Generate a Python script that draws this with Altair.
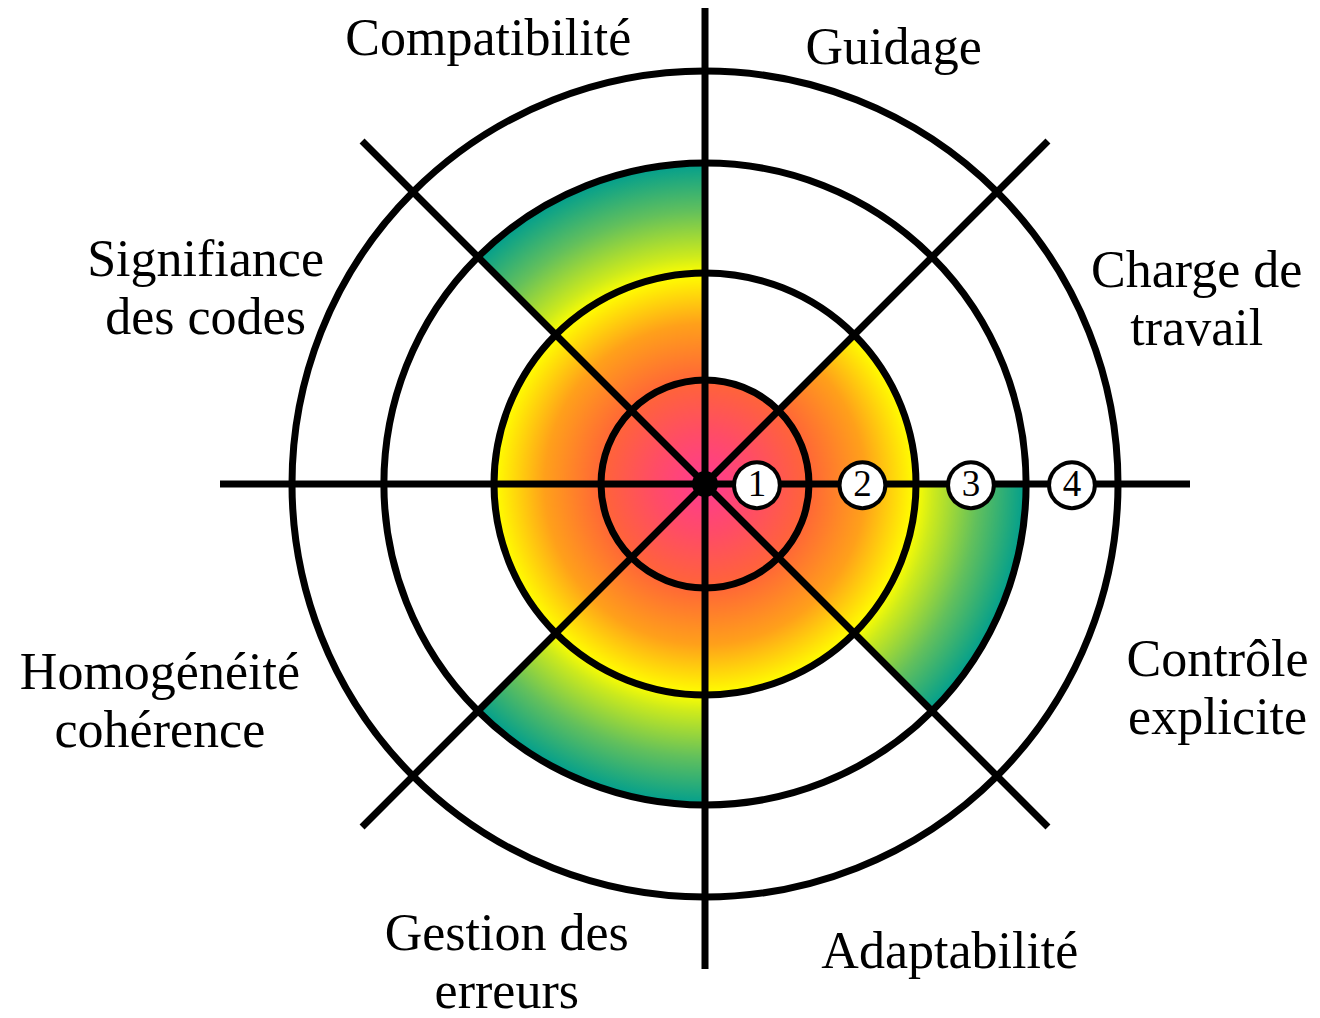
import math
import pandas as pd
import altair as alt

# ---------------- data ----------------
categories = ["Guidage", "Charge de travail", "Contrôle explicite", "Adaptabilité",
              "Gestion des erreurs", "Homogénéité cohérence", "Signifiance des codes",
              "Compatibilité"]
label_lines = [["Guidage"], ["Charge de", "travail"], ["Contrôle", "explicite"],
               ["Adaptabilité"], ["Gestion des", "erreurs"], ["Homogénéité", "cohérence"],
               ["Signifiance", "des codes"], ["Compatibilité"]]
scores = [1, 2, 3, 2, 3, 2, 2, 3]
levels = [1, 2, 3, 4]
level_labels = ["1", "2", "3", "4"]

# ---------------- layout (styling, not data) ----------------
CX, CY = 697, 476                      # polar origin inside the view
label_radius = [4.62, 5.12, 5.39, 5.15, 5.05, 5.74, 5.23, 4.82]
label_shift = [0.02, 0.044, -0.016, -0.114, 0.0, 0.016, -0.027, -0.077]
SPOKE_LEN = 4.72
DOT_R = 0.125
LINE_W = 7
SERIF = "Liberation Serif"
FS = 52
LH = 58

n = len(categories)
smax = max(scores)

THETA = alt.Scale(type="linear", domain=[0, n], range=[0, 2 * math.pi])
RADIUS = alt.Scale(type="linear", domain=[0, 1, 2, 3, 4, 5],
                   range=[0, 104, 211, 321, 413, 513])

gradient = {
    "gradient": "radial",
    "x1": 0.5, "y1": 0.5, "r1": 0,
    "x2": 0.5, "y2": 0.5, "r2": 0.5,
    "stops": [
        {"offset": 0.0, "color": "#ff3a92"},
        {"offset": 0.16, "color": "#ff4c66"},
        {"offset": 0.32, "color": "#ff6438"},
        {"offset": 0.50, "color": "#ffa01a"},
        {"offset": 0.655, "color": "#ffff00"},
        {"offset": 0.71, "color": "#cdea1c"},
        {"offset": 0.85, "color": "#62c05c"},
        {"offset": 1.0, "color": "#009e8e"},
    ],
}

sectors = pd.DataFrame({
    "cat": categories,
    "i": list(range(n)),
    "i1": [k + 1 for k in range(n)],
    "lab_t": [k + 0.5 + s for k, s in zip(range(n), label_shift)],
    "score": scores,
    "lines": label_lines,
    "nlines": [len(l) for l in label_lines],
    "lr": label_radius,
})

disk_df = pd.DataFrame({"t0": [0], "t1": [n], "r0": [0], "r1": [smax]})
cover_df = sectors[sectors["score"] < smax].assign(top=smax + 0.2)
ring_df = pd.DataFrame({"lvl": levels, "t0": 0, "t1": n})
spoke_df = pd.DataFrame({"i": list(range(n)), "r0": 0, "r1": SPOKE_LEN})
dot_df = pd.DataFrame({"t0": [0], "t1": [n], "r0": [0], "r1": [DOT_R]})
marker_df = pd.DataFrame({"lvl": levels, "txt": level_labels,
                          "pos": [v - 0.5 for v in levels], "th": n / 4})


def th(f):
    return alt.Theta(f, type="quantitative", scale=THETA)


def th2(f):
    return alt.Theta2(f)


def rd(f):
    return alt.Radius(f, type="quantitative", scale=RADIUS)


def rd2(f):
    return alt.Radius2(f)


disk = alt.Chart(disk_df).mark_arc(fill=gradient, x=CX, y=CY).encode(
    theta=th("t0"), theta2=th2("t1"), radius=rd("r1"), radius2=rd2("r0"))

cover = alt.Chart(cover_df).mark_arc(fill="white", x=CX, y=CY).encode(
    theta=th("i"), theta2=th2("i1"), radius=rd("top"), radius2=rd2("score"))

spokes = alt.Chart(spoke_df).mark_arc(filled=False, color="black", stroke="black",
                                      strokeWidth=LINE_W, x=CX, y=CY).encode(
    theta=th("i"), theta2=th2("i"), radius=rd("r1"), radius2=rd2("r0"))

rings = alt.Chart(ring_df).mark_arc(filled=False, color="black", stroke="black",
                                    strokeWidth=LINE_W, x=CX, y=CY).encode(
    theta=th("t0"), theta2=th2("t1"), radius=rd("lvl"), radius2=rd2("lvl"))

dot = alt.Chart(dot_df).mark_arc(fill="black", x=CX, y=CY).encode(
    theta=th("t0"), theta2=th2("t1"), radius=rd("r1"), radius2=rd2("r0"))

marker_bg = alt.Chart(marker_df).mark_text(
    text="\u25CF", font="DejaVu Sans", fontSize=60, fill="white", stroke="black",
    strokeWidth=4, align="center", baseline="middle", x=CX, y=CY, dy=-1).encode(
    theta=th("th"), radius=rd("pos"))

marker_txt = alt.Chart(marker_df).mark_text(
    font=SERIF, fontSize=37, color="black", align="center", baseline="middle",
    x=CX, y=CY, dy=1).encode(
    theta=th("th"), radius=rd("pos"), text=alt.Text("txt:N"))

labels_one = alt.Chart(sectors).transform_filter("datum.nlines == 1").mark_text(
    font=SERIF, fontSize=FS, lineHeight=LH, color="black", align="center",
    baseline="middle", x=CX, y=CY).encode(
    theta=th("lab_t"), radius=rd("lr"), text=alt.Text("lines:N"))

labels_two = alt.Chart(sectors).transform_filter("datum.nlines == 2").mark_text(
    font=SERIF, fontSize=FS, lineHeight=LH, color="black", align="center",
    baseline="middle", x=CX, y=CY, dy=-LH / 2).encode(
    theta=th("lab_t"), radius=rd("lr"), text=alt.Text("lines:N"))

chart = alt.layer(disk, cover, spokes, rings, dot, marker_bg, marker_txt,
                  labels_one, labels_two).properties(
    width=1304, height=1002, padding=0,
    autosize=alt.AutoSizeParams(type="none"),
    background="white",
).configure_view(strokeWidth=0)

chart.save("out.html", embed_options={"renderer": "svg", "actions": False})
